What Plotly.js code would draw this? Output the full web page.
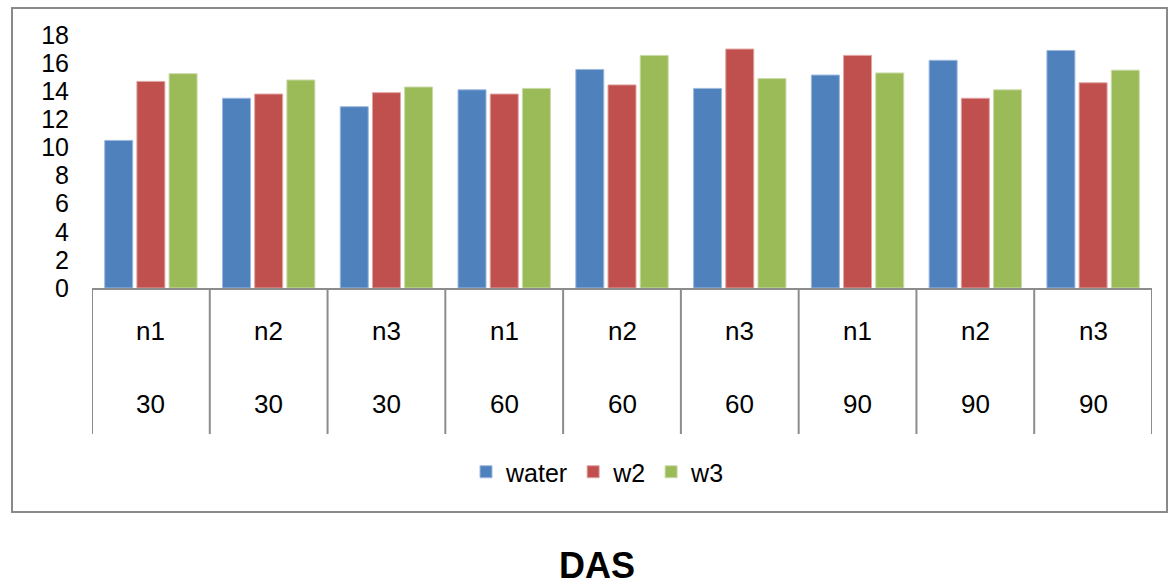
<!DOCTYPE html>
<html>
<head>
<meta charset="utf-8">
<script src="https://cdn.plot.ly/plotly-3.0.1.min.js"></script>
<style>html,body{margin:0;padding:0;background:#fff;}#chart{width:1168px;height:586px;}</style>
</head>
<body>
<div id="chart"></div>
<script>
// Data
const nLabels = ["n1","n2","n3","n1","n2","n3","n1","n2","n3"];
const dasLabels = ["30","30","30","60","60","60","90","90","90"];
const water = [10.5, 13.5, 12.9, 14.1, 15.55, 14.2, 15.15, 16.2, 16.9];
const w2 = [14.7, 13.8, 13.9, 13.8, 14.45, 17.0, 16.55, 13.5, 14.6];
const w3 = [15.25, 14.8, 14.3, 14.2, 16.55, 14.9, 15.3, 14.1, 15.5];
const seriesNames = ["water","w2","w3"];

const FONT = "'Liberation Sans', Arial, sans-serif";
const keys = nLabels.map((n, i) => dasLabels[i] + "|" + n + "|" + i);
const colors = ["#4F81BD", "#C0504D", "#9BBB59"];
const lineCols = ["#9DB9DE", "#E0A5A3", "#CADBA8"];

const traces = [water, w2, w3].map((vals, k) => ({
  type: "bar",
  name: seriesNames[k],
  x: keys,
  y: vals,
  marker: {color: colors[k], line: {color: lineCols[k], width: 1}},
  hoverinfo: "skip"
}));

const yPix = p => (288 - p) / 253;
const xPix = p => (p - 92) / 1060;

const shapes = [];
// outer chart border
shapes.push({type: "rect", xref: "paper", yref: "paper",
  x0: xPix(12), x1: xPix(1167), y0: yPix(512), y1: yPix(8),
  line: {color: "#898989", width: 2}, fillcolor: "rgba(0,0,0,0)", layer: "below"});
// category dividers
for (let i = 0; i <= keys.length; i++) {
  shapes.push({type: "line", xref: "x", yref: "paper",
    x0: i - 0.5, x1: i - 0.5, y0: 0, y1: yPix(434),
    line: {color: "#8C8C8C", width: 2}});
}

const annotations = [];
keys.forEach((k, i) => {
  annotations.push({xref: "x", yref: "paper", x: i, y: yPix(331), text: nLabels[i],
    showarrow: false, font: {family: FONT, size: 26, color: "#000"}, xanchor: "center", yanchor: "middle"});
  annotations.push({xref: "x", yref: "paper", x: i, y: yPix(404), text: dasLabels[i],
    showarrow: false, font: {family: FONT, size: 26, color: "#000"}, xanchor: "center", yanchor: "middle"});
});

const layout = {
  width: 1168, height: 586,
  margin: {l: 92, r: 16, t: 35, b: 298},
  paper_bgcolor: "#fff", plot_bgcolor: "#fff",
  font: {family: FONT, color: "#000"},
  title: {text: "<b>DAS</b>", font: {family: FONT, size: 36, color: "#000"},
    xref: "container", x: 597/1168, xanchor: "center",
    yref: "container", y: 1 - 565/586, yanchor: "middle"},
  bargap: 0.18, bargroupgap: 0.13,
  xaxis: {type: "category", showticklabels: false, ticks: "", showgrid: false, zeroline: false,
    showline: true, linecolor: "#8C8C8C", linewidth: 2, range: [-0.5, 8.5], fixedrange: true},
  yaxis: {range: [0, 18], tickvals: [0,2,4,6,8,10,12,14,16,18], showgrid: false, zeroline: false,
    showline: false, ticks: "", ticklabelstandoff: 22,
    tickfont: {family: FONT, size: 25, color: "#000"}, fixedrange: true},
  legend: {orientation: "h", xref: "paper", yref: "paper", x: xPix(598), y: yPix(472),
    xanchor: "center", yanchor: "middle", font: {family: FONT, size: 25, color: "#000"},
    itemwidth: 30, traceorder: "normal", bgcolor: "rgba(0,0,0,0)"},
  shapes: shapes,
  annotations: annotations,
  showlegend: true
};

Plotly.newPlot("chart", traces, layout, {displayModeBar: false, staticPlot: true});
</script>
</body>
</html>
